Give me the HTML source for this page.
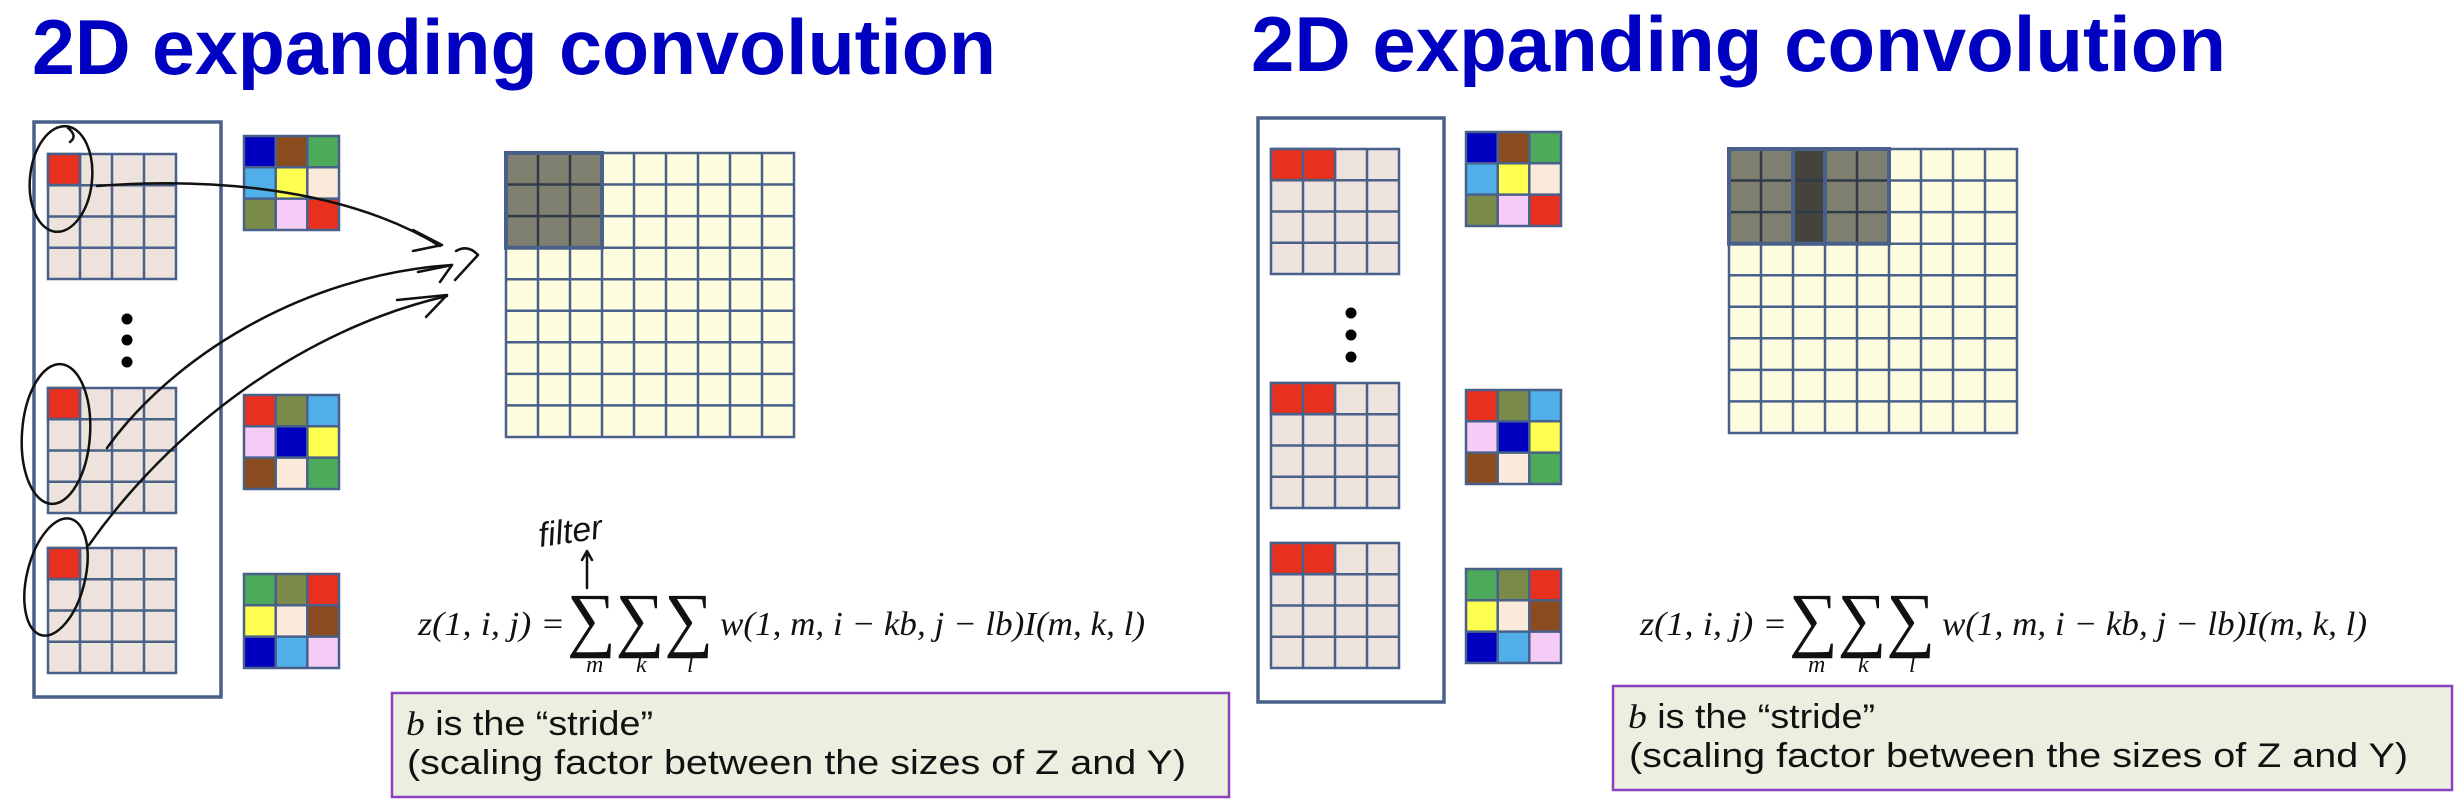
<!DOCTYPE html>
<html><head><meta charset="utf-8"><style>html,body{margin:0;padding:0;background:#fff}svg{display:block}</style></head>
<body>
<svg width="2461" height="802" viewBox="0 0 2461 802" xmlns="http://www.w3.org/2000/svg">
<defs>
<g id="g4">
<rect x="0" y="0" width="128" height="125" fill="#eee2dc" stroke="#48608a" stroke-width="2.5"/>
<path d="M32,0V125M64,0V125M96,0V125M0,31.25H128M0,62.5H128M0,93.75H128" stroke="#48608a" stroke-width="2.5" fill="none"/>
</g>
<g id="f3">
<path d="M0,31.3H95M0,62.6H95M31.7,0V94M63.3,0V94" stroke="#48608a" stroke-width="2.5"/>
<rect x="0" y="0" width="95" height="94" fill="none" stroke="#48608a" stroke-width="2.5"/>
</g>
<g id="o9">
<rect x="0" y="0" width="288" height="284" fill="#fffde0"/>
<path d="M32,0V284M64,0V284M96,0V284M128,0V284M160,0V284M192,0V284M224,0V284M256,0V284M0,31.56H288M0,63.1H288M0,94.7H288M0,126.2H288M0,157.8H288M0,189.3H288M0,220.9H288M0,252.4H288" stroke="#48608a" stroke-width="2.5" fill="none"/>
<rect x="0" y="0" width="288" height="284" fill="none" stroke="#48608a" stroke-width="2.5"/>
</g>
</defs>

<text x="32" y="74" font-family="Liberation Sans, sans-serif" font-weight="bold" font-size="78" fill="#0000c0" textLength="964" lengthAdjust="spacingAndGlyphs">2D expanding convolution</text>
<text x="1251" y="71" font-family="Liberation Sans, sans-serif" font-weight="bold" font-size="78" fill="#0000c0" textLength="975" lengthAdjust="spacingAndGlyphs">2D expanding convolution</text>

<rect x="34" y="122" width="187" height="575" fill="none" stroke="#48608a" stroke-width="3.5"/>
<use href="#g4" x="48" y="154"/>
<use href="#g4" x="48" y="388"/>
<use href="#g4" x="48" y="548"/>
<rect x="48" y="154" width="32" height="31" fill="#e8301e" stroke="#48608a" stroke-width="2.5"/>
<rect x="48" y="388" width="32" height="31" fill="#e8301e" stroke="#48608a" stroke-width="2.5"/>
<rect x="48" y="548" width="32" height="31" fill="#e8301e" stroke="#48608a" stroke-width="2.5"/>
<circle cx="127" cy="319" r="5.5" fill="#000"/>
<circle cx="127" cy="340" r="5.5" fill="#000"/>
<circle cx="127" cy="362" r="5.5" fill="#000"/>

<g transform="translate(244,136)">
<rect x="0" y="0" width="31.7" height="31.3" fill="#0000c0"/><rect x="31.7" y="0" width="31.7" height="31.3" fill="#8a4b1f"/><rect x="63.3" y="0" width="31.7" height="31.3" fill="#4caa5a"/>
<rect x="0" y="31.3" width="31.7" height="31.3" fill="#50aee8"/><rect x="31.7" y="31.3" width="31.7" height="31.3" fill="#ffff50"/><rect x="63.3" y="31.3" width="31.7" height="31.3" fill="#fbe9da"/>
<rect x="0" y="62.6" width="31.7" height="31.4" fill="#7a8a48"/><rect x="31.7" y="62.6" width="31.7" height="31.4" fill="#f5ccf5"/><rect x="63.3" y="62.6" width="31.7" height="31.4" fill="#e8301e"/>
<use href="#f3"/></g>
<g transform="translate(244,395)">
<rect x="0" y="0" width="31.7" height="31.3" fill="#e8301e"/><rect x="31.7" y="0" width="31.7" height="31.3" fill="#7a8a48"/><rect x="63.3" y="0" width="31.7" height="31.3" fill="#50aee8"/>
<rect x="0" y="31.3" width="31.7" height="31.3" fill="#f5ccf5"/><rect x="31.7" y="31.3" width="31.7" height="31.3" fill="#0000c0"/><rect x="63.3" y="31.3" width="31.7" height="31.3" fill="#ffff50"/>
<rect x="0" y="62.6" width="31.7" height="31.4" fill="#8a4b1f"/><rect x="31.7" y="62.6" width="31.7" height="31.4" fill="#fbe9da"/><rect x="63.3" y="62.6" width="31.7" height="31.4" fill="#4caa5a"/>
<use href="#f3"/></g>
<g transform="translate(244,574)">
<rect x="0" y="0" width="31.7" height="31.3" fill="#4caa5a"/><rect x="31.7" y="0" width="31.7" height="31.3" fill="#7a8a48"/><rect x="63.3" y="0" width="31.7" height="31.3" fill="#e8301e"/>
<rect x="0" y="31.3" width="31.7" height="31.3" fill="#ffff50"/><rect x="31.7" y="31.3" width="31.7" height="31.3" fill="#fbe9da"/><rect x="63.3" y="31.3" width="31.7" height="31.3" fill="#8a4b1f"/>
<rect x="0" y="62.6" width="31.7" height="31.4" fill="#0000c0"/><rect x="31.7" y="62.6" width="31.7" height="31.4" fill="#50aee8"/><rect x="63.3" y="62.6" width="31.7" height="31.4" fill="#f5ccf5"/>
<use href="#f3"/></g>

<g transform="translate(506,153)">
<use href="#o9"/>
<rect x="0" y="0" width="96" height="94.7" fill="#808070"/>
<path d="M32,0V94.7M64,0V94.7M0,31.56H96M0,63.1H96" stroke="#303a48" stroke-width="2.5"/>
<rect x="0" y="0" width="96" height="94.7" fill="none" stroke="#48608a" stroke-width="4"/>
</g>

<g fill="none" stroke="#111" stroke-width="2.5" stroke-linecap="round" stroke-linejoin="round">
<ellipse cx="61" cy="179" rx="31" ry="53" transform="rotate(6 61 179)"/>
<path d="M68,128 q10,8 2,14"/>
<ellipse cx="56" cy="434" rx="34" ry="70" transform="rotate(4 56 434)"/>
<ellipse cx="56" cy="577" rx="29" ry="60" transform="rotate(14 56 577)"/>
<path d="M97,186 C200,178 340,185 440,246"/>
<path d="M413,230 L442,245 L413,251"/>
<path d="M456,251 Q468,244 478,255 L455,280"/>
<path d="M107,448 C170,360 300,275 452,265"/>
<path d="M418,272 L452,265 L440,282"/>
<path d="M89,545 C170,430 300,330 447,296"/>
<path d="M397,300 L447,295 L426,317"/>
<path d="M587,588 V552 M582,560 L587,551 L592,560"/>
</g>
<text x="538" y="542" font-family="Liberation Sans, sans-serif" font-style="italic" font-size="34" fill="#111" transform="rotate(-8 575 530)">filter</text>

<g font-family="Liberation Serif, serif" font-style="italic" fill="#111">
<text x="418" y="635" font-size="34" textLength="147" lengthAdjust="spacingAndGlyphs">z(1, i, j) =</text>
<text x="567" y="643" font-size="72" font-style="normal" textLength="146" lengthAdjust="spacingAndGlyphs">∑∑∑</text>
<text x="586" y="672" font-size="24">m</text>
<text x="636" y="672" font-size="24">k</text>
<text x="687" y="672" font-size="24">l</text>
<text x="720" y="635" font-size="34" textLength="425" lengthAdjust="spacingAndGlyphs">w(1, m, i − kb, j − lb)I(m, k, l)</text>
</g>
<rect x="392" y="693" width="837" height="104" fill="#ecefdf" stroke="#8a40c0" stroke-width="2.5"/>
<text x="406" y="735" font-family="Liberation Sans, sans-serif" font-size="34" fill="#111" textLength="247" lengthAdjust="spacingAndGlyphs"><tspan font-family="Liberation Serif, serif" font-style="italic">b</tspan> is the “stride”</text>
<text x="407" y="774" font-family="Liberation Sans, sans-serif" font-size="34" fill="#111" textLength="779" lengthAdjust="spacingAndGlyphs">(scaling factor between the sizes of Z and Y)</text>

<rect x="1258" y="118" width="186" height="584" fill="none" stroke="#48608a" stroke-width="3.5"/>
<use href="#g4" x="1271" y="149"/>
<use href="#g4" x="1271" y="383"/>
<use href="#g4" x="1271" y="543"/>
<rect x="1271" y="149" width="64" height="31" fill="#e8301e" stroke="#48608a" stroke-width="2.5"/>
<rect x="1271" y="383" width="64" height="31" fill="#e8301e" stroke="#48608a" stroke-width="2.5"/>
<rect x="1271" y="543" width="64" height="31" fill="#e8301e" stroke="#48608a" stroke-width="2.5"/>
<path d="M1303,149V180M1303,383V414M1303,543V574" stroke="#48608a" stroke-width="2.5"/>
<circle cx="1351" cy="313" r="5.5" fill="#000"/>
<circle cx="1351" cy="335" r="5.5" fill="#000"/>
<circle cx="1351" cy="357" r="5.5" fill="#000"/>

<g transform="translate(1466,132)">
<rect x="0" y="0" width="31.7" height="31.3" fill="#0000c0"/><rect x="31.7" y="0" width="31.7" height="31.3" fill="#8a4b1f"/><rect x="63.3" y="0" width="31.7" height="31.3" fill="#4caa5a"/>
<rect x="0" y="31.3" width="31.7" height="31.3" fill="#50aee8"/><rect x="31.7" y="31.3" width="31.7" height="31.3" fill="#ffff50"/><rect x="63.3" y="31.3" width="31.7" height="31.3" fill="#fbe9da"/>
<rect x="0" y="62.6" width="31.7" height="31.4" fill="#7a8a48"/><rect x="31.7" y="62.6" width="31.7" height="31.4" fill="#f5ccf5"/><rect x="63.3" y="62.6" width="31.7" height="31.4" fill="#e8301e"/>
<use href="#f3"/></g>
<g transform="translate(1466,390)">
<rect x="0" y="0" width="31.7" height="31.3" fill="#e8301e"/><rect x="31.7" y="0" width="31.7" height="31.3" fill="#7a8a48"/><rect x="63.3" y="0" width="31.7" height="31.3" fill="#50aee8"/>
<rect x="0" y="31.3" width="31.7" height="31.3" fill="#f5ccf5"/><rect x="31.7" y="31.3" width="31.7" height="31.3" fill="#0000c0"/><rect x="63.3" y="31.3" width="31.7" height="31.3" fill="#ffff50"/>
<rect x="0" y="62.6" width="31.7" height="31.4" fill="#8a4b1f"/><rect x="31.7" y="62.6" width="31.7" height="31.4" fill="#fbe9da"/><rect x="63.3" y="62.6" width="31.7" height="31.4" fill="#4caa5a"/>
<use href="#f3"/></g>
<g transform="translate(1466,569)">
<rect x="0" y="0" width="31.7" height="31.3" fill="#4caa5a"/><rect x="31.7" y="0" width="31.7" height="31.3" fill="#7a8a48"/><rect x="63.3" y="0" width="31.7" height="31.3" fill="#e8301e"/>
<rect x="0" y="31.3" width="31.7" height="31.3" fill="#ffff50"/><rect x="31.7" y="31.3" width="31.7" height="31.3" fill="#fbe9da"/><rect x="63.3" y="31.3" width="31.7" height="31.3" fill="#8a4b1f"/>
<rect x="0" y="62.6" width="31.7" height="31.4" fill="#0000c0"/><rect x="31.7" y="62.6" width="31.7" height="31.4" fill="#50aee8"/><rect x="63.3" y="62.6" width="31.7" height="31.4" fill="#f5ccf5"/>
<use href="#f3"/></g>

<g transform="translate(1729,149)">
<use href="#o9"/>
<rect x="0" y="0" width="160" height="94.7" fill="#808070"/>
<rect x="64" y="0" width="32" height="94.7" fill="#45443c"/>
<path d="M32,0V94.7M64,0V94.7M96,0V94.7M128,0V94.7M0,31.56H160M0,63.1H160" stroke="#303a48" stroke-width="2.5"/>
<rect x="0" y="0" width="96" height="94.7" fill="none" stroke="#48608a" stroke-width="4"/>
<rect x="64" y="0" width="96" height="94.7" fill="none" stroke="#48608a" stroke-width="4"/>
</g>

<g font-family="Liberation Serif, serif" font-style="italic" fill="#111">
<text x="1640" y="635" font-size="34" textLength="147" lengthAdjust="spacingAndGlyphs">z(1, i, j) =</text>
<text x="1789" y="643" font-size="72" font-style="normal" textLength="146" lengthAdjust="spacingAndGlyphs">∑∑∑</text>
<text x="1808" y="672" font-size="24">m</text>
<text x="1858" y="672" font-size="24">k</text>
<text x="1909" y="672" font-size="24">l</text>
<text x="1942" y="635" font-size="34" textLength="425" lengthAdjust="spacingAndGlyphs">w(1, m, i − kb, j − lb)I(m, k, l)</text>
</g>
<rect x="1613" y="686" width="839" height="104" fill="#ecefdf" stroke="#8a40c0" stroke-width="2.5"/>
<text x="1628" y="728" font-family="Liberation Sans, sans-serif" font-size="34" fill="#111" textLength="247" lengthAdjust="spacingAndGlyphs"><tspan font-family="Liberation Serif, serif" font-style="italic">b</tspan> is the “stride”</text>
<text x="1629" y="767" font-family="Liberation Sans, sans-serif" font-size="34" fill="#111" textLength="779" lengthAdjust="spacingAndGlyphs">(scaling factor between the sizes of Z and Y)</text>
</svg>
</body></html>
